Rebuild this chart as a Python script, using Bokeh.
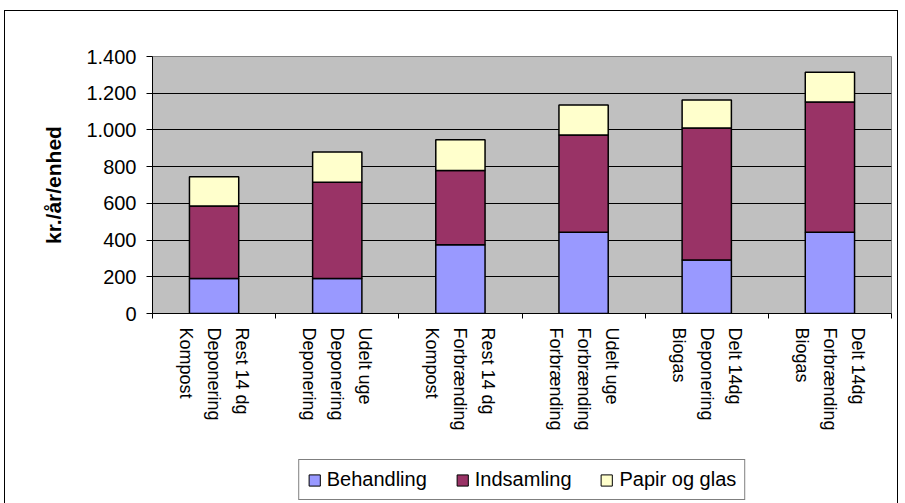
import math
from bokeh.plotting import figure
from bokeh.layouts import column
from bokeh.models import ColumnDataSource, FixedTicker, Legend, LegendItem, Range1d
from bokeh.core.properties import value
from bokeh.embed import file_html
from bokeh.resources import INLINE

categories = [
    "Rest 14 dg\nDeponering\nKompost",
    "Udelt uge\nDeponering\nDeponering",
    "Rest 14 dg\nForbrænding\nKompost",
    "Udelt uge\nForbrænding\nForbrænding",
    "Delt 14dg\nDeponering\nBiogas",
    "Delt 14dg\nForbrænding\nBiogas",
]
behandling = [190, 190, 375, 443, 291, 443]
indsamling = [395, 525, 404, 529, 720, 709]
papir = [160, 165, 168, 164, 152, 162]
series_names = ["Behandling", "Indsamling", "Papir og glas"]
series_colors = ["#9999FF", "#993366", "#FFFFCC"]
y_ticks = [0, 200, 400, 600, 800, 1000, 1200, 1400]
y_tick_labels = ["0", "200", "400", "600", "800", "1.000", "1.200", "1.400"]

n = len(categories)
centers = [i + 0.5 for i in range(n)]
bounds = [i for i in range(n + 1)]

source = ColumnDataSource(dict(x=centers, b=behandling, i=indsamling, p=papir, label=categories))
xr = Range1d(0, n)

W = 892
H1 = 316
p = figure(width=W, height=H1, output_backend="svg", toolbar_location=None,
           x_range=xr, y_range=Range1d(0, 1400),
           min_border_left=147, min_border_right=6, min_border_top=45, min_border_bottom=14)

p.vbar_stack(["b", "i", "p"], x="x", width=0.4, source=source,
             fill_color=series_colors, line_color="black", line_width=1.5)

p.background_fill_color = "#C0C0C0"
p.border_fill_color = "white"
p.outline_line_color = "#808080"
p.outline_line_width = 1

# y axis
p.yaxis.ticker = FixedTicker(ticks=y_ticks)
p.yaxis.major_label_overrides = {t: l for t, l in zip(y_ticks, y_tick_labels)}
p.yaxis.major_label_text_font = "Liberation Sans"
p.yaxis.major_label_text_font_size = "20px"
p.yaxis.major_label_text_color = "black"
p.yaxis.major_tick_out = 6
p.yaxis.major_tick_in = 0
p.yaxis.minor_tick_line_color = None
p.yaxis.major_tick_line_color = "black"
p.yaxis.axis_line_color = "black"
p.yaxis.major_label_standoff = 10
p.yaxis.axis_label = "kr./år/enhed"
p.yaxis.axis_label_text_font = "Liberation Sans"
p.yaxis.axis_label_text_font_style = "bold"
p.yaxis.axis_label_text_font_size = "21px"
p.yaxis.axis_label_text_color = "black"
p.yaxis.axis_label_standoff = 18

# x axis: only ticks at category boundaries (labels are drawn in the panel below)
p.xaxis.ticker = FixedTicker(ticks=[], minor_ticks=bounds)
p.xaxis.major_tick_line_color = None
p.xaxis.major_tick_out = 0
p.xaxis.major_tick_in = 0
p.xaxis.minor_tick_line_color = "black"
p.xaxis.minor_tick_out = 5
p.xaxis.minor_tick_in = 0
p.xaxis.axis_line_color = "black"
p.xaxis.major_label_standoff = 0

p.xgrid.grid_line_color = None
p.ygrid.ticker = FixedTicker(ticks=y_ticks)
p.ygrid.grid_line_color = "black"
p.ygrid.grid_line_width = 1

# lower panel: category labels and legend, sharing the x range
H2 = 176
p2 = figure(width=W, height=H2, output_backend="svg", toolbar_location=None,
            x_range=xr, y_range=Range1d(0, H2),
            x_axis_location=None, y_axis_location=None,
            min_border_left=147, min_border_right=6, min_border_top=0, min_border_bottom=0)
p2.grid.grid_line_color = None
p2.outline_line_color = None
p2.background_fill_color = "white"
p2.border_fill_color = "white"

p2.text(x="x", y=H2, text="label", source=source, angle=-math.pi / 2,
        text_align="left", text_baseline="middle", text_font=value("Liberation Sans"),
        text_font_size="18px", text_color="black", text_line_height=1.4)

# legend proxies (same data, not drawn) so the legend can live below the axis labels
proxies = p2.vbar_stack(["b", "i", "p"], x="x", width=0.4, source=source,
                        fill_color=series_colors, line_color="black", line_width=1)
for r in proxies:
    r.visible = False

legend = Legend(items=[LegendItem(label=nm, renderers=[r]) for nm, r in zip(series_names, proxies)],
                orientation="horizontal", location="bottom_center")
legend.label_text_font = "Liberation Sans"
legend.label_text_font_size = "20px"
legend.label_text_color = "black"
legend.glyph_width = 14
legend.glyph_height = 14
legend.label_standoff = 6
legend.spacing = 28
legend.padding = 8
legend.margin = 3
legend.border_line_color = "black"
legend.border_line_width = 1
legend.background_fill_color = "white"
legend.background_fill_alpha = 1
legend.click_policy = "none"
p2.add_layout(legend, "center")

layout = column(p, p2, spacing=0, margin=(11, 0, 0, 5), styles={"outline": "1px solid black"})

open("out.html", "w").write(file_html(layout, INLINE))
